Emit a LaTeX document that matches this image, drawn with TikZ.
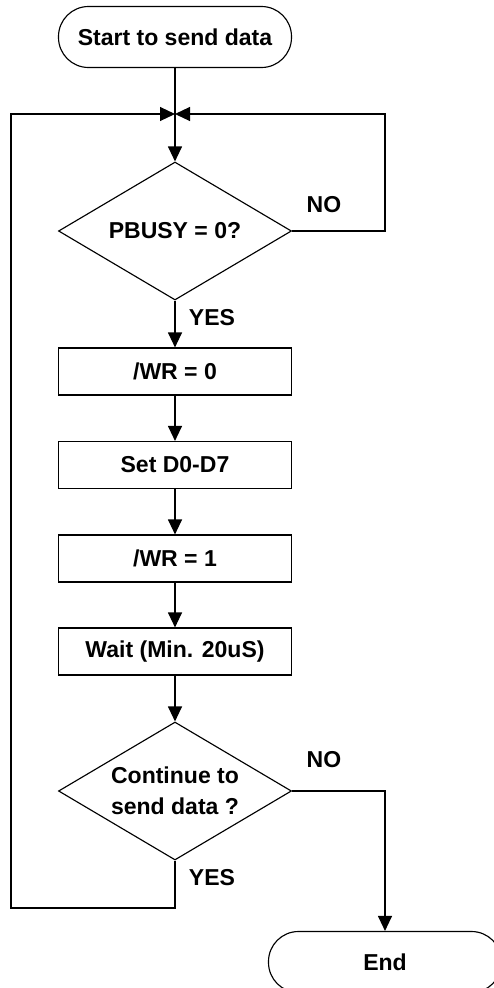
\documentclass[tikz,border=0pt]{standalone}
\usepackage{fontspec}
\setmainfont{Liberation Sans}
\usepackage{tikz}
\usetikzlibrary{positioning}
\usetikzlibrary{shapes.geometric}
\usetikzlibrary{arrows.meta}
\begin{document}
\begin{tikzpicture}[font=\fontsize{13.1}{17.5}\selectfont\bfseries, line width=0.65pt,
  term/.style={draw, rounded corners=0.6cm, minimum width=4.66cm, minimum height=1.22cm, inner sep=0pt},
  proc/.style={draw, minimum width=4.66cm, minimum height=0.94cm, inner sep=0pt},
  cond/.style={draw, diamond, aspect=1.69, minimum width=4.66cm, minimum height=2.76cm, inner sep=0pt, align=center},
  flow/.style={-{Triangle[length=0.3cm,width=0.28cm]}}]

\useasboundingbox (0,0) rectangle (9.88,-19.76);
\clip (0,0) rectangle (9.88,-19.76);

 \node[term] (start) at (3.5,-0.74) {Start to send data};
 \coordinate (join) at (3.5,-2.28);
 \node[cond] (busy) at (3.5,-4.62) {PBUSY = 0?};
 \node[proc] (wrlow) at (3.5,-7.43) {/WR = 0};
 \node[proc] (setd) at (3.5,-9.3) {Set D0-D7};
 \node[proc] (wrhigh) at (3.5,-11.17) {/WR = 1};
 \node[proc] (wait) at (3.5,-13.03) {Wait (Min. 20uS)};
 \node[cond] (more) at (3.5,-15.82) {Continue to\\send data ?};
 \node[term] (stop) at (7.7,-19.24) {End};

 \coordinate (loopleft) at (0.22,-18.16);
 \coordinate (loopright) at (7.7,-4.62);

\draw[flow] (start) -- (busy);
\draw[flow] (busy) -- (wrlow);
\draw[flow] (wrlow) -- (setd);
\draw[flow] (setd) -- (wrhigh);
\draw[flow] (wrhigh) -- (wait);
\draw[flow] (wait) -- (more);

% NO branch of PBUSY back to the top
\draw[flow] (busy.east) -- (loopright) |- (join);
% YES branch of the second test back to the top
\draw[flow] (more.south) |- (loopleft) |- (join);
\draw[flow] (more.east) -| (stop.north);

\node at (6.48,-4.1) {NO};
\node at (4.24,-6.36) {YES};
\node at (6.48,-15.2) {NO};
\node at (4.24,-17.56) {YES};

\end{tikzpicture}
\end{document}
